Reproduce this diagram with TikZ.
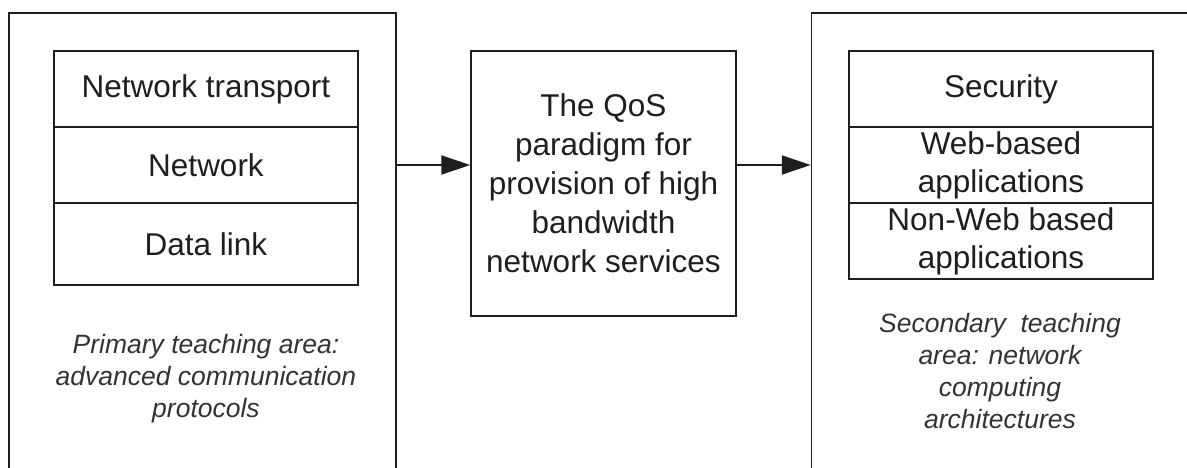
\documentclass[tikz,border=0pt]{standalone}
\usepackage{fontspec}
\setmainfont{Liberation Sans}
\usepackage{xcolor}
\usepackage{tikz}
\usetikzlibrary{arrows.meta, positioning}
\definecolor{inkgray}{HTML}{1E1E1E}
\definecolor{notegray}{HTML}{333333}

\begin{document}
\begin{tikzpicture}[x=1pt, y=1pt,
  outerbox/.style={draw=inkgray, line width=1.5pt, minimum width=387pt, minimum height=480pt},
  layer/.style={draw=inkgray, line width=1.5pt, outer sep=0pt, inner sep=0pt, minimum width=304pt,
    align=center, text=inkgray, font=\fontsize{31.5}{38}\selectfont},
  note/.style={align=center, text=notegray, font=\fontsize{26.5}{32}\selectfont\itshape},
  flow/.style={-{Triangle[length=29pt, width=19pt]}, line width=2pt, draw=inkgray}]
\useasboundingbox (0,0) rectangle (1187,467);
\clip (0,0) rectangle (1187,467);

% the two teaching areas, cut off at the bottom (and right)
\node[outerbox] (primary) at (202.5,214) {};
\node[outerbox] (secondary) at (1005,214) {};

% protocol layers
\node[layer, minimum height=76pt] (transport) at (206,378) {Network transport};
\node[layer, minimum height=76pt, below=0pt of transport] (net) {Network};
\node[layer, minimum height=82pt, below=0pt of net] (datalink) {Data link};

% application layers
\node[layer, minimum height=76pt] (security) at (1001,378) {Security};
\node[layer, minimum height=76pt, below=0pt of security] (webapps) {Web-based\\applications};
\node[layer, minimum height=76pt, below=0pt of webapps] (nonweb) {Non-Web based\\applications};

% QoS in the middle
\node[draw=inkgray, line width=1.5pt, minimum width=265pt, minimum height=265pt, align=center,
  text=inkgray, font=\fontsize{31.5}{39}\selectfont] (qos) at (603.5,283.5)
  {The QoS\\paradigm for\\provision of high\\bandwidth\\network services};

\node[note] (primarynote) at (206,88) {Primary teaching area:\\advanced communication\\protocols};
\node[note] (secondarynote) at (1000,96) {Secondary\ \ teaching\\area: network\\computing\\architectures};

\draw[flow] (primary.east |- net.center) -- (qos.west |- net.center);
\draw[flow] (qos.east |- net.center) -- (secondary.west |- net.center);
\end{tikzpicture}
\end{document}
